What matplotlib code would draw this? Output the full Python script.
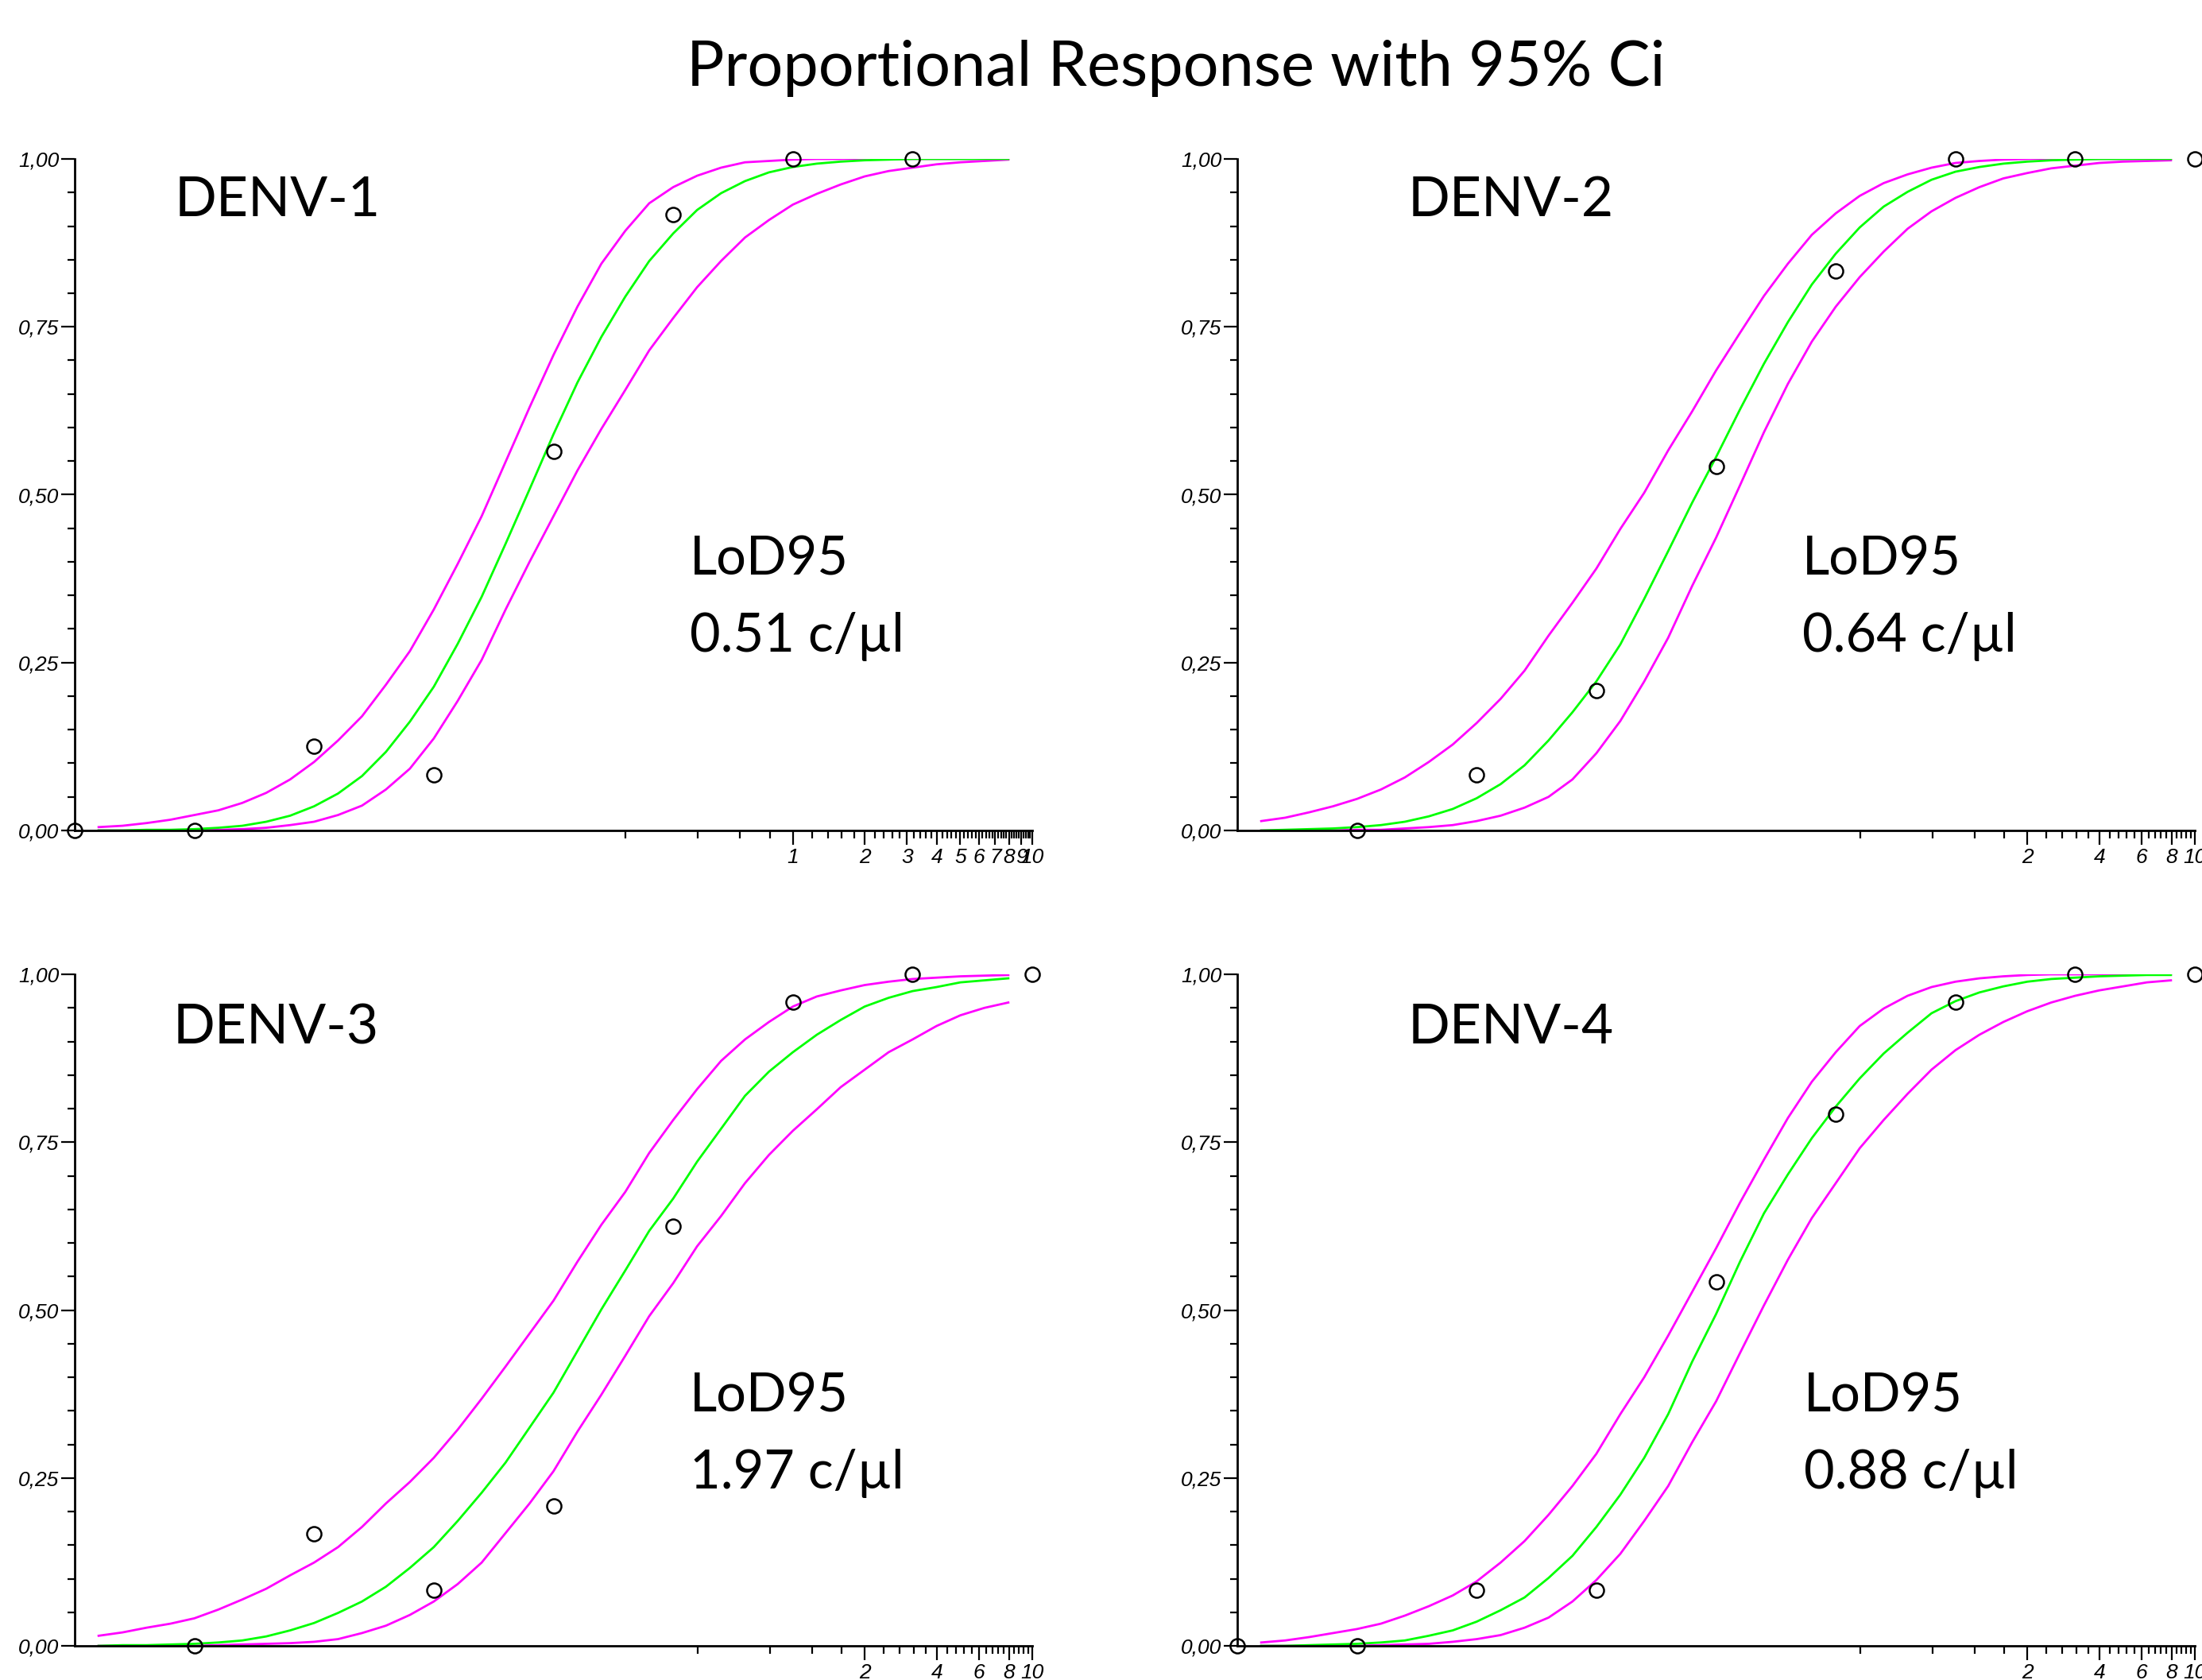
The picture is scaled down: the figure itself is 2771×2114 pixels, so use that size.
import matplotlib.pyplot as plt

plt.rcParams['font.family'] = ['Lato', 'DejaVu Sans']

# dilution series (c/ul) and observed hit rates per panel
d1_x = [0.001, 0.00316, 0.01, 0.0316, 0.1, 0.316, 1.0, 3.16]
d1_y = [0.0, 0.0, 0.125, 0.083, 0.565, 0.917, 1.0, 1.0]
d2_x = [0.00316, 0.01, 0.0316, 0.1, 0.316, 1.0, 3.16, 10.0]
d2_y = [0.0, 0.083, 0.208, 0.542, 0.833, 1.0, 1.0, 1.0]
d3_x = [0.00316, 0.01, 0.0316, 0.1, 0.316, 1.0, 3.16, 10.0]
d3_y = [0.0, 0.167, 0.083, 0.208, 0.625, 0.958, 1.0, 1.0]
d4_x = [0.001, 0.00316, 0.01, 0.0316, 0.1, 0.316, 1.0, 3.16, 10.0]
d4_y = [0.0, 0.0, 0.083, 0.083, 0.542, 0.792, 0.958, 1.0, 1.0]

# log10 concentration where the fitted curves were read
curve_logx = [-2.9, -2.8, -2.7, -2.6, -2.5, -2.4, -2.3, -2.2, -2.1, -2.0,
              -1.9, -1.8, -1.7, -1.6, -1.5, -1.4, -1.3, -1.2, -1.1, -1.0,
              -0.9, -0.8, -0.7, -0.6, -0.5, -0.4, -0.3, -0.2, -0.1, 0.0,
              0.1, 0.2, 0.3, 0.4, 0.5, 0.6, 0.7, 0.8, 0.9]

# probit fit (green) and 95% CI (magenta)
p1_hi = [0.005, 0.007, 0.011, 0.016, 0.023, 0.030, 0.041, 0.056, 0.076, 0.102,
         0.134, 0.170, 0.217, 0.267, 0.329, 0.397, 0.468, 0.549, 0.630, 0.708,
         0.780, 0.844, 0.893, 0.934, 0.958, 0.975, 0.987, 0.995, 0.997, 0.999,
         1.0, 1.0, 1.0, 1.0, 1.0, 1.0, 1.0, 1.0, 1.0]
p1_fit = [0.000, 0.000, 0.001, 0.001, 0.002, 0.004, 0.007, 0.013, 0.022, 0.036,
          0.055, 0.081, 0.117, 0.162, 0.214, 0.278, 0.348, 0.427, 0.508, 0.590,
          0.667, 0.735, 0.795, 0.848, 0.889, 0.924, 0.949, 0.967, 0.980, 0.988,
          0.993, 0.996, 0.998, 0.999, 1.0, 1.0, 1.0, 1.0, 1.0]
p1_lo = [0.000, 0.000, 0.000, 0.000, 0.001, 0.001, 0.002, 0.004, 0.008, 0.013,
         0.023, 0.037, 0.061, 0.092, 0.137, 0.193, 0.254, 0.329, 0.400, 0.468,
         0.536, 0.598, 0.656, 0.715, 0.763, 0.809, 0.848, 0.883, 0.909, 0.932,
         0.948, 0.962, 0.974, 0.982, 0.987, 0.992, 0.995, 0.997, 0.999]

p2_hi = [0.014, 0.019, 0.027, 0.036, 0.047, 0.061, 0.079, 0.102, 0.128, 0.160,
         0.196, 0.238, 0.290, 0.339, 0.390, 0.449, 0.503, 0.566, 0.624, 0.685,
         0.741, 0.796, 0.844, 0.887, 0.919, 0.945, 0.964, 0.977, 0.987, 0.994,
         0.997, 0.999, 1.0, 1.0, 1.0, 1.0, 1.0, 1.0, 1.0]
p2_fit = [0.000, 0.001, 0.002, 0.003, 0.005, 0.008, 0.013, 0.021, 0.032, 0.048,
          0.069, 0.097, 0.134, 0.176, 0.222, 0.277, 0.345, 0.416, 0.488, 0.556,
          0.627, 0.695, 0.757, 0.813, 0.859, 0.898, 0.929, 0.951, 0.969, 0.981,
          0.988, 0.993, 0.996, 0.998, 0.999, 1.0, 1.0, 1.0, 1.0]
p2_lo = [0.000, 0.000, 0.000, 0.000, 0.001, 0.001, 0.003, 0.005, 0.008, 0.014,
         0.022, 0.034, 0.050, 0.076, 0.115, 0.163, 0.222, 0.287, 0.364, 0.436,
         0.514, 0.593, 0.665, 0.728, 0.780, 0.824, 0.862, 0.896, 0.922, 0.942,
         0.958, 0.971, 0.979, 0.986, 0.990, 0.994, 0.996, 0.997, 0.998]

p3_hi = [0.015, 0.020, 0.027, 0.033, 0.041, 0.054, 0.069, 0.085, 0.105, 0.124,
         0.147, 0.177, 0.212, 0.244, 0.280, 0.322, 0.368, 0.416, 0.465, 0.514,
         0.572, 0.627, 0.676, 0.734, 0.783, 0.829, 0.871, 0.903, 0.929, 0.952,
         0.967, 0.976, 0.984, 0.989, 0.993, 0.995, 0.997, 0.998, 0.999]
p3_fit = [0.000, 0.001, 0.001, 0.002, 0.003, 0.005, 0.008, 0.014, 0.023, 0.034,
          0.049, 0.066, 0.088, 0.116, 0.147, 0.186, 0.228, 0.273, 0.325, 0.377,
          0.439, 0.501, 0.559, 0.618, 0.666, 0.721, 0.770, 0.819, 0.855, 0.884,
          0.910, 0.932, 0.952, 0.965, 0.975, 0.981, 0.988, 0.991, 0.994]
p3_lo = [0.000, 0.000, 0.000, 0.000, 0.000, 0.001, 0.002, 0.003, 0.004, 0.006,
         0.010, 0.019, 0.030, 0.046, 0.066, 0.092, 0.124, 0.168, 0.212, 0.260,
         0.319, 0.374, 0.432, 0.491, 0.540, 0.595, 0.640, 0.689, 0.731, 0.767,
         0.799, 0.832, 0.858, 0.884, 0.903, 0.923, 0.939, 0.950, 0.958]

p4_hi = [0.005, 0.008, 0.013, 0.019, 0.025, 0.033, 0.045, 0.059, 0.075, 0.096,
         0.124, 0.156, 0.195, 0.238, 0.286, 0.345, 0.400, 0.462, 0.527, 0.592,
         0.660, 0.724, 0.786, 0.840, 0.884, 0.923, 0.949, 0.968, 0.981, 0.989,
         0.994, 0.997, 0.999, 1.0, 1.0, 1.0, 1.0, 1.0, 1.0]
p4_fit = [0.000, 0.000, 0.001, 0.002, 0.003, 0.005, 0.008, 0.015, 0.023, 0.036,
          0.053, 0.072, 0.101, 0.134, 0.177, 0.225, 0.280, 0.345, 0.423, 0.494,
          0.572, 0.644, 0.702, 0.756, 0.803, 0.845, 0.882, 0.913, 0.942, 0.960,
          0.973, 0.982, 0.989, 0.993, 0.995, 0.997, 0.998, 0.999, 0.999]
p4_lo = [0.000, 0.000, 0.000, 0.000, 0.000, 0.001, 0.002, 0.003, 0.006, 0.010,
         0.016, 0.027, 0.042, 0.066, 0.098, 0.137, 0.186, 0.238, 0.303, 0.364,
         0.436, 0.507, 0.575, 0.637, 0.689, 0.741, 0.783, 0.822, 0.858, 0.887,
         0.910, 0.929, 0.945, 0.958, 0.968, 0.976, 0.982, 0.988, 0.991]

names = ['DENV-1', 'DENV-2', 'DENV-3', 'DENV-4']
lods = ['0.51 c/µl', '0.64 c/µl', '1.97 c/µl', '0.88 c/µl']

y_major = [0.0, 0.25, 0.5, 0.75, 1.0]
y_labels = ['0,00', '0,25', '0,50', '0,75', '1,00']

W, H = 2771, 2114
fig = plt.figure(figsize=(W / 100, H / 100), dpi=100)

# axes boxes in pixels: left, top(y=1), width, height
boxes = [(94, 200, 1205, 845), (1557, 200, 1205, 845),
         (94, 1226, 1205, 845), (1557, 1226, 1205, 845)]
name_pos = [(0.104, 0.915), (0.178, 0.915), (0.103, 0.897), (0.178, 0.897)]
lod_pos = [(0.642, 0.380), (0.590, 0.380), (0.642, 0.348), (0.592, 0.348)]

data = [(d1_x, d1_y, p1_lo, p1_fit, p1_hi),
        (d2_x, d2_y, p2_lo, p2_fit, p2_hi),
        (d3_x, d3_y, p3_lo, p3_fit, p3_hi),
        (d4_x, d4_y, p4_lo, p4_fit, p4_hi)]

curve_x = [10 ** v for v in curve_logx]
tick_font = dict(family='Liberation Sans', style='italic', size=19)

for i, (left, top, w, h) in enumerate(boxes):
    ax = fig.add_axes([left / W, 1 - (top + h) / H, w / W, h / H])
    xs, ys, lo, fit, hi = data[i]

    ax.plot(curve_x, hi, color='#ff00ff', lw=2)
    ax.plot(curve_x, lo, color='#ff00ff', lw=2)
    ax.plot(curve_x, fit, color='#00ff00', lw=2)
    ax.plot(xs, ys, 'o', mfc='none', mec='black', ms=13, mew=1.8,
            clip_on=False, zorder=5)

    ax.set_xscale('log')
    ax.set_xlim(0.001, 10)
    ax.set_ylim(0, 1)

    # linear tick marks on the log axis, as in the original software
    if i == 0:
        xmaj = list(range(1, 11))
        xmin = [k * 0.2 for k in range(1, 50) if k % 5 != 0]
    else:
        xmaj = list(range(2, 11, 2))
        xmin = [k * 0.4 for k in range(1, 25) if k % 5 != 0]
    ax.set_xticks(xmaj)
    ax.set_xticklabels([str(v) for v in xmaj], fontdict=tick_font)
    ax.set_xticks(xmin, minor=True)
    ax.set_xticklabels([], minor=True)

    ax.set_yticks(y_major)
    ax.set_yticklabels(y_labels, fontdict=tick_font)
    ax.set_yticks([k * 0.05 for k in range(21)], minor=True)

    ax.tick_params(axis='x', which='major', length=13, width=1.6, pad=3)
    ax.tick_params(axis='x', which='minor', length=7, width=1.6)
    ax.tick_params(axis='y', which='major', length=12, width=1.6, pad=2)
    ax.tick_params(axis='y', which='minor', length=6.5, width=1.6)

    for s in ['top', 'right']:
        ax.spines[s].set_visible(False)
    for s in ['left', 'bottom']:
        ax.spines[s].set_linewidth(2)

    ax.text(name_pos[i][0], name_pos[i][1], names[i], transform=ax.transAxes,
            fontsize=50, va='baseline', ha='left')
    ax.text(lod_pos[i][0], lod_pos[i][1], 'LoD95', transform=ax.transAxes,
            fontsize=48, va='baseline', ha='left')
    ax.text(lod_pos[i][0], lod_pos[i][1] - 0.114, lods[i], transform=ax.transAxes,
            fontsize=48, va='baseline', ha='left')

fig.text(1480 / W, 1 - 108 / H, 'Proportional Response with 95% Ci',
         fontsize=57, ha='center', va='baseline')

fig.savefig('out.png', dpi=100)
